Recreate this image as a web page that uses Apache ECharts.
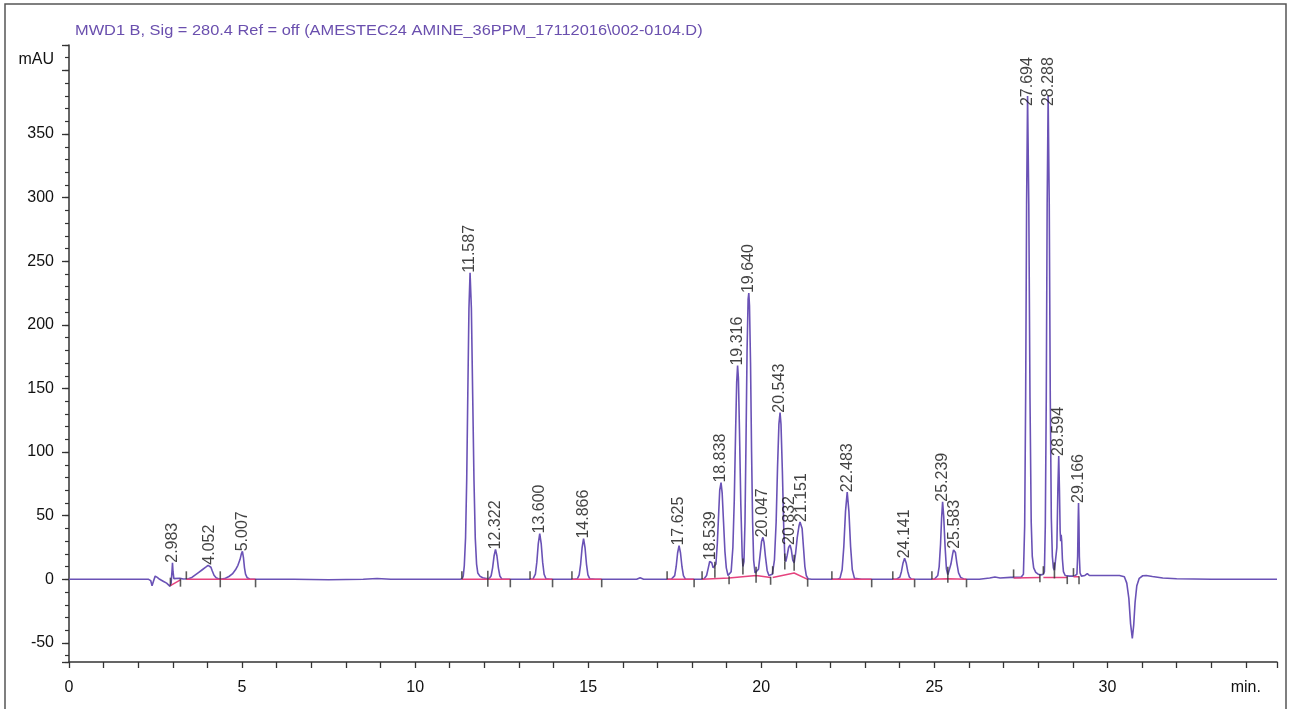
<!DOCTYPE html>
<html>
<head>
<meta charset="utf-8">
<script src="https://cdn.jsdelivr.net/npm/echarts@6/dist/echarts.min.js"></script>
<style>
html,body{margin:0;padding:0;background:#fff;}
#chart{width:1290px;height:709px;}
</style>
</head>
<body>
<div id="chart"></div>
<script>
// ---- data ----
var titleText = 'MWD1 B, Sig = 280.4 Ref = off (AMESTEC24 AMINE_36PPM_17112016\\002-0104.D)';

// signal trace: [time (min), absorbance (mAU)]
var traceEarly = [
  [0,0],[2.30,0],[2.36,-1],[2.40,-5],[2.44,-1.5],[2.49,2.5],[2.55,1.5],[2.62,0],[2.72,-1.5],[2.82,-3],[2.92,-5.5],
  [2.95,-3],[2.975,6],[2.99,13],[3.005,6],[3.03,0.5],[3.08,0],[3.2,0.8],[3.3,0.2],[3.45,0.5],
  [3.55,1.5],[3.65,3.5],[3.75,5.5],[3.85,7.5],[3.95,9.5],[4.02,11],[4.06,11.5],[4.1,9.5],[4.14,6.5],[4.19,3.2],[4.25,1.2],[4.33,0.2],[4.42,0.3],
  [4.52,0.8],[4.62,2.2],[4.72,4.2],[4.81,7.5],[4.88,11],[4.94,15.5],[4.98,20],[5.01,22],[5.04,17],[5.07,9],[5.10,4],[5.15,1.2],[5.22,0.3],[5.3,0],
  [6.5,0],[7.5,-0.3],[8.5,0],[8.9,0.6],[9.3,0],[11.3,0],
  [11.36,0.5],[11.39,2.7],[11.42,10.6],[11.457,32.6],[11.49,78],[11.522,146],[11.555,213],[11.587,241],[11.625,213],[11.662,146],[11.70,78],
  [11.737,32.6],[11.775,12],[11.81,5],[11.87,2.5],[11.95,1.2],[12.05,0.6],[12.142,0.5],
  [12.196,2.8],[12.238,9],[12.28,18.3],[12.322,23.5],[12.364,18.3],[12.406,8.8],[12.448,2.6],[12.502,0.3],[12.6,0],[13.4,0],
  [13.42,0.4],[13.474,4],[13.516,13.5],[13.558,28.1],[13.6,36],[13.642,28.1],[13.684,13.5],[13.726,4],[13.78,0.4],[13.9,0],[14.6,0],
  [14.686,0.35],[14.74,3.5],[14.782,12],[14.824,25],[14.866,32],[14.908,25],[14.95,12],[14.992,3.5],[15.046,0.35],[15.2,0],
  [16.4,0],[16.5,1.2],[16.6,0],[17.4,0],
  [17.445,0.3],[17.499,2.9],[17.541,9.9],[17.583,20.7],[17.625,26.5],[17.667,20.7],[17.709,9.9],[17.751,2.9],[17.805,0.3],[18.0,0],[18.25,0]
];
var traceMiddle = [
  [18.35,0.5],[18.42,3],[18.47,9],[18.51,14],[18.539,15],[18.57,13],[18.61,9],[18.65,7.5],[18.69,12],[18.73,28],[18.77,52],[18.80,70],[18.838,76],
  [18.87,68],[18.91,45],[18.95,22],[18.99,9],[19.04,3],[19.08,2.5],[19.13,6],[19.18,25],[19.22,62],[19.26,118],[19.29,155],[19.316,168],
  [19.34,158],[19.37,118],[19.41,58],[19.45,18],[19.47,10],[19.50,14],[19.53,45],[19.56,110],[19.59,180],[19.62,220],[19.64,225],[19.66,215],
  [19.69,170],[19.72,100],[19.75,45],[19.78,15],[19.82,5],[19.86,3.5],[19.92,8],[19.97,20],[20.01,30],[20.047,33],[20.08,29],[20.12,18],
  [20.17,7],[20.22,3],[20.27,2],[20.32,4],[20.38,15],[20.43,45],[20.47,88],[20.51,122],[20.543,131],[20.57,122],[20.61,85],[20.65,40],
  [20.68,18],[20.71,14],[20.75,19],[20.79,25],[20.832,27],[20.87,23],[20.91,15],[20.95,13],[20.99,20],[21.04,33],[21.09,42],[21.12,45],
  [21.151,45],[21.18,40],[21.22,25],[21.26,10],[21.30,3],[21.35,0.5],[21.45,0],[22.2,0],
  [22.273,0.75],[22.336,7.5],[22.385,25.7],[22.434,53.4],[22.483,68.5],[22.532,53.4],[22.581,25.7],[22.63,7.5],[22.693,0.75],[22.9,0],[23.9,0],
  [23.946,0.2],[24.005,1.8],[24.05,6.2],[24.096,12.9],[24.141,16.5],[24.187,12.9],[24.232,6.2],[24.278,1.8],[24.336,0.2],[24.6,0],[25.0,0],
  [25.05,0.5],[25.10,3],[25.14,10],[25.18,28],[25.21,48],[25.239,61],[25.27,50],[25.31,26],[25.35,8],[25.39,3.5],[25.43,5],[25.48,12],
  [25.53,20],[25.555,23],[25.583,24],[25.61,21],[25.65,13],[25.70,5],[25.76,1.5],[25.85,0.3],[25.95,0]
];
var traceLate = [
  [26.3,0],[26.6,1],[26.75,1.8],[26.9,1],[27.2,1.5],[27.5,1.5],
  [27.574,4],[27.61,42],[27.638,142],[27.666,295],[27.694,380],[27.729,295],[27.764,142],[27.799,45],[27.83,18],[27.87,9],[27.93,5.5],
  [28.0,4],[28.08,3.5],[28.15,4],
  [28.18,6],[28.206,42],[28.234,142],[28.26,295],[28.288,380],[28.32,295],[28.35,142],[28.38,48],[28.41,18],[28.44,9],[28.47,7],
  [28.51,8],[28.54,25],[28.57,72],[28.594,97],[28.615,70],[28.635,38],[28.65,30],[28.665,35],[28.68,30],[28.70,16],[28.73,6],[28.78,3],
  [28.9,2.5],[29.05,2.5],
  [29.12,4],[29.14,18],[29.155,45],[29.166,60],[29.178,45],[29.19,18],[29.21,5],[29.25,2.5],[29.35,3],[29.42,4.5],[29.48,3],[29.7,3],[30.0,3],[30.35,3],
  [30.49,2],[30.56,-3],[30.62,-15],[30.67,-35],[30.72,-46.5],[30.76,-36],[30.80,-18],[30.85,-5],[30.92,0.8],[31.02,2.8],[31.12,3],
  [31.3,2.2],[31.6,1],[32.0,0.4],[33.0,0],[34.9,0]
];

// peak retention-time labels and the height where each label starts
var peakTimes = [2.983,4.052,5.007,11.587,12.322,13.600,14.866,17.625,18.539,18.838,19.316,19.640,20.047,20.543,20.832,21.151,22.483,24.141,25.239,25.583,27.694,28.288,28.594,29.166];
var peakLabelY = [13,11.5,22,241,23.5,36,32,26.5,15,76,168,225,33,131,27,45,68.5,16.5,61,24,372,372,97,60];

// integration event marks: [time, signal level]
var marksUp = [[2.93,-5],[3.39,0],[4.37,0],[11.35,0],[12.10,0.5],[13.32,0],[14.53,0],[17.28,0],[18.29,0],[18.66,7.5],[19.47,10],[19.85,3.5],[20.33,4],[20.68,14],[20.95,13],[22.04,0],[23.8,0],[24.93,0],[25.39,3.5],[27.29,1.5],[28.15,4],[28.47,7],[29.02,2.5]];
var marksDown = [[3.22,0.5],[4.37,0],[5.39,0],[12.10,0.5],[12.75,0],[13.97,0],[15.39,0],[18.06,0],[18.66,7.5],[19.07,2.5],[19.47,10],[19.85,3.5],[20.27,2],[20.68,14],[20.95,13],[21.34,0.5],[23.19,0],[24.43,0],[25.39,3.5],[25.93,0],[28.05,4],[28.47,7],[28.84,2.5],[29.18,2.5]];

// integration baselines (drawn in pink)
var baselineSegments = [
  [[2.93,-5],[3.22,-0.5]],
  [[3.39,0],[4.37,0],[5.39,0]],
  [[11.35,0],[12.10,0],[12.75,0]],
  [[13.32,0],[13.97,0]],
  [[14.53,0],[15.39,0]],
  [[17.28,0],[18.06,0]],
  [[18.29,0],[19.07,1],[19.85,3],[20.27,1.5]],
  [[20.33,1.5],[20.95,5],[21.34,0]],
  [[22.04,0],[23.19,0]],
  [[23.8,0],[24.43,0]],
  [[24.93,0],[25.39,0.5],[25.93,0]],
  [[27.29,1],[28.05,1.5]],
  [[28.15,1.5],[28.47,1.5],[28.84,1.5]],
  [[29.02,2],[29.18,2]]
];

// axis ranges / ticks
var xMin = 0, xMax = 34.9, xUnitTick = 34;
var yMin = -65, yMax = 420, yUnitTick = 400;

// ---- chart ----
var purple = '#6a52b6';
var ink = '#111';
var font = 'Liberation Sans, Arial, sans-serif';
var chart = echarts.init(document.getElementById('chart'), null, {renderer: 'canvas'});

var series = [];
baselineSegments.forEach(function (seg) {
  series.push({
    type: 'line', data: seg, showSymbol: false, silent: true, z: 3,
    lineStyle: {color: '#e5437e', width: 1.5}
  });
});
series.push({
  type: 'line', data: traceEarly.concat(traceMiddle, traceLate), showSymbol: false, z: 2,
  lineStyle: {color: purple, width: 1.6}, silent: true
});
series.push({
  type: 'scatter', symbol: 'rect', symbolSize: [1.6, 8], symbolOffset: [0, -4], z: 4,
  itemStyle: {color: '#333'}, data: marksUp, silent: true
});
series.push({
  type: 'scatter', symbol: 'rect', symbolSize: [1.6, 8], symbolOffset: [0, 4], z: 4,
  itemStyle: {color: '#333'}, data: marksDown, silent: true
});
series.push({
  type: 'scatter', symbolSize: 0, z: 5, silent: true,
  data: peakTimes.map(function (t, i) { return {value: [t, peakLabelY[i]], name: t.toFixed(3)}; }),
  label: {
    show: true, position: 'top', distance: 0, rotate: 90, align: 'left', verticalAlign: 'middle',
    formatter: function (p) { return p.name; },
    color: ink, fontSize: 16, fontFamily: font
  }
});

chart.setOption({
  animation: false,
  backgroundColor: '#fff',
  graphic: [{
    type: 'rect', shape: {x: 5, y: 4, width: 1281, height: 720},
    style: {fill: 'none', stroke: '#555', lineWidth: 1.5}, silent: true
  }, {
    type: 'text', x: 75, y: 31, scaleX: 1.17, silent: true,
    style: {text: titleText, fill: '#6a4fae', font: '14px ' + font, textVerticalAlign: 'middle', verticalAlign: 'middle'}
  }],
  grid: {left: 69, right: 13, top: 45, bottom: 47, containLabel: false},
  xAxis: {
    type: 'value', min: xMin, max: xMax, interval: 1,
    axisLine: {onZero: false, lineStyle: {color: '#333', width: 1.5}},
    axisTick: {length: 6, lineStyle: {color: '#333', width: 1.3}},
    splitLine: {show: false},
    axisLabel: {
      color: ink, fontSize: 16, margin: 18, fontFamily: font,
      formatter: function (v) {
        if (v === xUnitTick) return 'min.';
        return (v % 5 === 0 && v <= 30) ? String(v) : '';
      }
    }
  },
  yAxis: [{
    type: 'value', min: yMin, max: yMax, splitNumber: 10, minInterval: 50, maxInterval: 50,
    axisLine: {show: true, lineStyle: {color: '#333', width: 1.5}},
    axisTick: {show: true, length: 7, lineStyle: {color: '#333', width: 1.3}},
    splitLine: {show: false},
    axisLabel: {
      color: ink, fontSize: 16, margin: 15, fontFamily: font,
      formatter: function (v) {
        if (v === yUnitTick) return '{u|mAU}';
        return (v % 50 === 0 && v < yUnitTick) ? String(v) : '';
      },
      rich: {u: {fontSize: 16, fontFamily: font, color: ink, padding: [0, 0, 22, 0]}}
    }
  }, {
    type: 'value', min: yMin, max: yMax, splitNumber: 48, minInterval: 10, maxInterval: 10, position: 'left',
    axisLine: {show: false}, axisLabel: {show: false}, splitLine: {show: false},
    axisTick: {show: true, length: 4, lineStyle: {color: '#333', width: 1.2}}
  }],
  series: series
});
</script>
</body>
</html>
